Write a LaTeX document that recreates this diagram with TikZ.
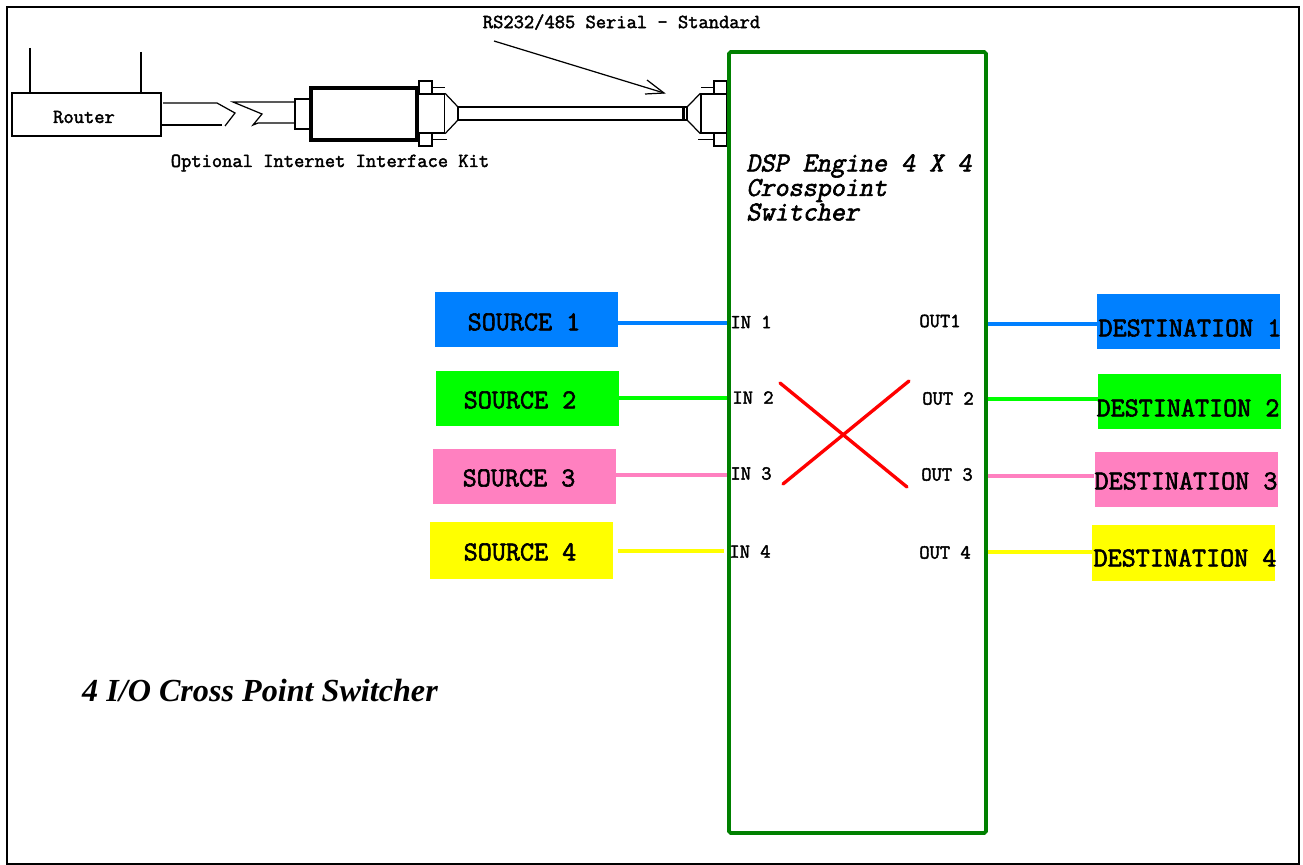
\documentclass[tikz,border=0pt]{standalone}
\usepackage{fontspec}
\setmainfont{Liberation Serif}
\newfontfamily\swmono{Latin Modern Mono}[FakeBold=2.2]
\newfontfamily\swslant{Latin Modern Mono}[FakeBold=2.2,FakeSlant=0.2]
\definecolor{swblue}{RGB}{0,128,255}
\definecolor{swgreen}{RGB}{0,255,0}
\definecolor{swpink}{RGB}{255,128,192}
\definecolor{swyellow}{RGB}{255,255,0}
\definecolor{swframe}{RGB}{0,128,0}
\usetikzlibrary{positioning}
\tikzset{
  smalltext/.style={font=\swmono\fontsize{11.35}{13}\selectfont, inner sep=0pt},
  bigtext/.style={font=\swmono\fontsize{15.55}{17}\selectfont, inner sep=0pt},
  colorbox/.style={minimum width=183*0.02cm, minimum height=55*0.02cm, inner sep=0pt},
  wire/.style={line width=2pt},
  part/.style={draw, line width=0.7pt, inner sep=0pt}
}
\begin{document}
\begin{tikzpicture}[x=0.02cm, y=-0.02cm]
  \useasboundingbox (0,0) rectangle (1303,865);
  \draw[line width=1.3pt] (7,7) rectangle (1299,864);

  % router and kit
  \node[part, minimum width=149*0.02cm, minimum height=43*0.02cm] (router) at (86.5,114.5) {};
  \node[smalltext] (routertext) at (84,117) {Router};
  \coordinate (ant1) at (30,48);
  \coordinate (ant2) at (141,52);
  \draw[line width=0.7pt] (ant1) -- (ant1 |- router.north);
  \draw[line width=0.7pt] (ant2) -- (ant2 |- router.north);
  \draw[line width=0.7pt] (163,103) -- (217,103) -- (235,113) -- (225,126);
  \draw[line width=0.7pt] (161,125) -- (222,125);
  \draw[line width=0.7pt] (295,102) -- (233,102) -- (262,114) -- (253,125) -- (258,123) -- (295,123);
  \node[part, minimum width=16*0.02cm, minimum height=30*0.02cm] (collar) at (303,114) {};
  \node[draw, line width=2.2pt, fill=white, minimum width=106*0.02cm, minimum height=52*0.02cm, inner sep=0pt] (kit) at (364,114) {};
  \node[smalltext] (kittext) at (330,163) {Optional Internet Interface Kit};

  % left plug
  \node[part, minimum width=27*0.02cm, minimum height=39*0.02cm] (lplug) at (431,113.5) {};
  \node[part, minimum width=13*0.02cm, minimum height=13*0.02cm] (lflangea) at (425.5,87.5) {};
  \node[part, minimum width=13*0.02cm, minimum height=13*0.02cm] (lflangeb) at (425.5,139.5) {};
  \draw[line width=0.7pt] (lflangea.east) -- (445,87.5);
  \draw[line width=0.7pt] (lflangeb.east) -- (447,139.5);
  \draw[line width=0.7pt] (lplug.north east) -- (458,107) -- (458,120) -- (lplug.south east);

  % cable
  \node[part, minimum width=225*0.02cm, minimum height=13*0.02cm] (cable) at (570.5,113.5) {};
  \draw[line width=0.7pt] (684,107) rectangle (687,120);

  % right plug
  \node[part, minimum width=26*0.02cm, minimum height=39*0.02cm] (rplug) at (714,113.5) {};
  \node[part, minimum width=13*0.02cm, minimum height=13*0.02cm] (rflangea) at (720.5,87.5) {};
  \node[part, minimum width=13*0.02cm, minimum height=13*0.02cm] (rflangeb) at (720.5,139.5) {};
  \draw[line width=0.7pt] (rflangea.west) -- (701,87.5);
  \draw[line width=0.7pt] (rflangeb.west) -- (698,139.5);
  \draw[line width=0.7pt] (rplug.north west) -- (687,107) -- (687,120) -- (rplug.south west);

  % serial pointer
  \node[smalltext] (serialtext) at (621.5,22) {RS232/485 Serial - Standard};
  \coordinate (ptrfrom) at (494,41);
  \coordinate (ptrto) at (664,93);
  \draw[line width=0.7pt] (ptrfrom) -- (ptrto);
  \draw[line width=0.7pt] (647,80) -- (ptrto) -- (645,94);

  % switcher
  \node[draw=swframe, line width=2.2pt, rounded corners=1pt, minimum width=257*0.02cm, minimum height=781*0.02cm, inner sep=0pt] (dsp) at (857.5,442.5) {};
  \node[bigtext, align=left, anchor=north west, font=\swslant\fontsize{15.55}{13.95}\selectfont] (dsptext) at (746,154) {DSP Engine 4 X 4\\Crosspoint\\Switcher};

  % sources
  \node[colorbox, fill=swblue] (src1) at (526.5,319) {};
  \node[bigtext] (src1text) at (524,322) {SOURCE 1};
  \node[colorbox, fill=swgreen] (src2) at (527.5,398.5) {};
  \node[bigtext] (src2text) at (520,400) {SOURCE 2};
  \node[colorbox, fill=swpink] (src3) at (524.5,476.5) {};
  \node[bigtext] (src3text) at (519,478) {SOURCE 3};
  \node[colorbox, fill=swyellow, minimum height=57*0.02cm] (src4) at (521.5,550.5) {};
  \node[bigtext] (src4text) at (520,552) {SOURCE 4};

  % destinations
  \node[colorbox, fill=swblue] (dst1) at (1188.5,321.5) {};
  \node[bigtext] (dst1text) at (1190,328) {DESTINATION 1};
  \node[colorbox, fill=swgreen] (dst2) at (1189.5,401.5) {};
  \node[bigtext] (dst2text) at (1188,408) {DESTINATION 2};
  \node[colorbox, fill=swpink] (dst3) at (1186,479.5) {};
  \node[bigtext] (dst3text) at (1186,481) {DESTINATION 3};
  \node[colorbox, fill=swyellow, minimum height=56*0.02cm] (dst4) at (1183.5,553) {};
  \node[bigtext] (dst4text) at (1185,558) {DESTINATION 4};

  % port labels
  \node[smalltext] (in1) at (751,322) {IN 1};
  \node[smalltext] (in2) at (753,397.5) {IN 2};
  \node[smalltext] (in3) at (751,473.5) {IN 3};
  \node[smalltext] (in4) at (750,551.5) {IN 4};
  \node[smalltext] (out1) at (940,321) {OUT1};
  \node[smalltext] (out2) at (948,398.5) {OUT 2};
  \node[smalltext] (out3) at (947,474.5) {OUT 3};
  \node[smalltext] (out4) at (945,552.5) {OUT 4};

  % wires
  \coordinate (src4end) at (618,551);
  \coordinate (in4end) at (724,551);
  \draw[wire, swblue] (src1.east |- 0,323) -- (dsp.west |- 0,323);
  \draw[wire, swgreen] (src2.east |- 0,398) -- (dsp.west |- 0,398);
  \draw[wire, swpink] (src3.east |- 0,475) -- (dsp.west |- 0,475);
  \draw[wire, swyellow] (src4end) -- (in4end);
  \draw[wire, swblue] (dsp.east |- 0,324) -- (dst1.west |- 0,324);
  \draw[wire, swgreen] (dsp.east |- 0,399) -- (dst2.west |- 0,399);
  \draw[wire, swpink] (dsp.east |- 0,476) -- (dst3.west |- 0,476);
  \draw[wire, swyellow] (dsp.east |- 0,552) -- (dst4.west |- 0,552);

  % crossing
  \draw[red, line width=1.9pt, line cap=round] (780,383) -- (907,487);
  \draw[red, line width=1.9pt, line cap=round] (783,484) -- (909,381);

  \node[font=\bfseries\itshape\fontsize{18.3}{20}\selectfont, inner sep=0pt] (title) at (260,690) {4 I/O Cross Point Switcher};
\end{tikzpicture}
\end{document}
